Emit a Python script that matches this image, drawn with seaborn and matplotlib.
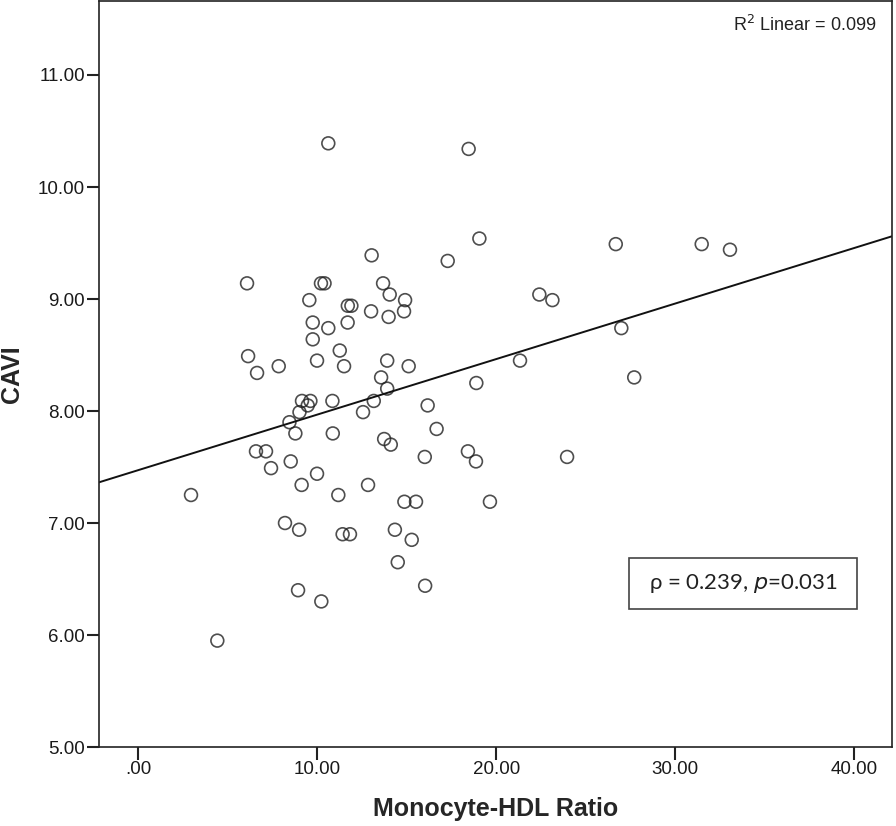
import matplotlib
matplotlib.use("Agg")
import matplotlib.pyplot as plt
import seaborn as sns
import pandas as pd
from matplotlib.patches import Rectangle

# values
mhr = [10.61, 18.45, 13.03, 17.28, 19.05, 26.67, 31.47, 33.05, 6.07, 10.2,
       10.4, 13.67, 9.55, 14.04, 14.9, 11.7, 11.9, 13.0, 13.98, 14.84,
       9.74, 10.61, 11.69, 9.74, 11.25, 6.13, 9.98, 13.9, 11.49, 15.1,
       7.84, 6.63, 13.56, 13.9, 16.16, 16.66, 9.14, 9.61, 9.46, 9.0,
       8.44, 10.84, 13.15, 12.55, 8.77, 10.86, 13.73, 14.1, 16.0, 6.57,
       7.13, 7.41, 8.51, 9.98, 9.12, 12.83, 2.94, 11.17, 14.86, 15.51,
       8.19, 8.98, 11.41, 11.82, 14.33, 15.27, 14.49, 8.92, 10.22, 16.02,
       22.4, 23.13, 26.98, 21.32, 27.7, 18.88, 18.41, 18.86, 23.95, 19.64,
       4.41]
cavi = [10.39, 10.34, 9.39, 9.34, 9.54, 9.49, 9.49, 9.44, 9.14, 9.14,
        9.14, 9.14, 8.99, 9.04, 8.99, 8.94, 8.94, 8.89, 8.84, 8.89,
        8.79, 8.74, 8.79, 8.64, 8.54, 8.49, 8.45, 8.45, 8.40, 8.40,
        8.40, 8.34, 8.30, 8.20, 8.05, 7.84, 8.09, 8.09, 8.05, 7.99,
        7.90, 8.09, 8.09, 7.99, 7.80, 7.80, 7.75, 7.70, 7.59, 7.64,
        7.64, 7.49, 7.55, 7.44, 7.34, 7.34, 7.25, 7.25, 7.19, 7.19,
        7.00, 6.94, 6.90, 6.90, 6.94, 6.85, 6.65, 6.40, 6.30, 6.44,
        9.04, 8.99, 8.74, 8.45, 8.30, 8.25, 7.64, 7.55, 7.59, 7.19,
        5.95]
x_ticks = [0, 10, 20, 30, 40]
y_ticks = [5, 6, 7, 8, 9, 10, 11]

df = pd.DataFrame({"Monocyte-HDL Ratio": mhr, "CAVI": cavi})

sns.set_style("white", {"xtick.bottom": True, "ytick.left": True,
                        "axes.edgecolor": "#222222"})
plt.rcParams["font.family"] = ["Liberation Sans", "DejaVu Sans"]

fig = plt.figure(figsize=(8.96, 8.26), dpi=100)
ax = fig.add_axes([0.1105, 0.0956, 0.885, 0.9031])
ax.set_xlim(-2.2, 42.1)
ax.set_ylim(5, 11.66)

# SPSS-style fit line over the whole x range
sns.regplot(data=df, x="Monocyte-HDL Ratio", y="CAVI", ax=ax, ci=None,
            truncate=False, marker="o",
            scatter_kws={"s": 85, "facecolors": "none", "edgecolors": "#222222",
                         "linewidths": 1.2},
            line_kws={"color": "#111111", "lw": 1.4})
ax.set_xlim(-2.2, 42.1)
ax.set_ylim(5, 11.66)

ax.set_xticks(x_ticks)
ax.set_xticklabels([".00" if v == 0 else f"{v:.2f}" for v in x_ticks])
ax.set_yticks(y_ticks)
ax.set_yticklabels([f"{v:.2f}" for v in y_ticks])
ax.tick_params(axis="both", length=9, width=1.5, color="#222222",
               labelsize=13.5, labelcolor="#1a1a1a", pad=1)
for sp in ax.spines.values():
    sp.set_linewidth(1.2)

ax.set_xlabel("Monocyte-HDL Ratio", fontsize=18, fontweight="bold", labelpad=14)
ax.set_ylabel("CAVI", fontsize=18, fontweight="bold", labelpad=10)

ax.text(0.98, 0.968, r"R$^2$ Linear = 0.099", transform=ax.transAxes,
        ha="right", va="center", fontsize=13, color="#222222")

ax.add_patch(Rectangle((0.6683, 0.185), 0.2875, 0.0684, transform=ax.transAxes,
                       facecolor="white", edgecolor="#444444", lw=1.2))
ax.text(0.812, 0.219, r"ρ = 0.239, $\it{p}$=0.031", transform=ax.transAxes,
        ha="center", va="center", fontsize=16, color="#222222",
        family=["Lato", "DejaVu Sans"])

fig.savefig("out.png", dpi=100)
